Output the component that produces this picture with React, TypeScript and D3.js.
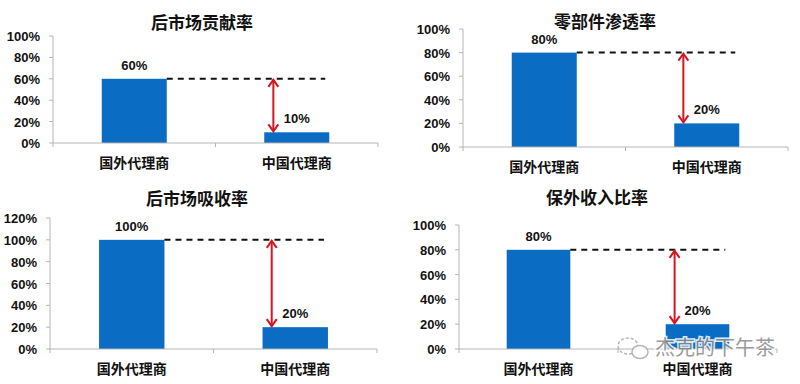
import React from "react";
import * as d3 from "d3";

const categories = ["国外代理商", "中国代理商"];
const titles = ["后市场贡献率", "零部件渗透率", "后市场吸收率", "保外收入比率"];
const foreignValues = [60, 80, 100, 80];
const chinaValues = [10, 20, 20, 20];
const yMaxes = [100, 100, 120, 100];
const tickStep = 20;

// panel layout (pixels): axis left x, axis right x, baseline y, top y (for yMax), title center x / baseline y
const layouts = [
  { x0: 53, x1: 378, y0: 143, y1: 36, tx: 202, ty: 29 },
  { x0: 463, x1: 788, y0: 147, y1: 29, tx: 605, ty: 28 },
  { x0: 50, x1: 377, y0: 349, y1: 218, tx: 197, ty: 205 },
  { x0: 459, x1: 777, y0: 349, y1: 225, tx: 597, ty: 204 },
];

const BLUE = "#0a6cc2";
const RED = "#d7141f";
const AXIS = "#b5b5b5";
const FONT = "'Liberation Sans', Arial, 'Noto Sans CJK SC', sans-serif";

function Panel({ i }: { i: number }) {
  const L = layouts[i];
  const x = d3.scaleBand<string>().domain(categories).range([L.x0, L.x1]).paddingInner(0.6).paddingOuter(0.3);
  const y = d3.scaleLinear().domain([0, yMaxes[i]]).range([L.y0, L.y1]);
  const ticks = d3.range(0, yMaxes[i] + 1, tickStep);
  const vals = [foreignValues[i], chinaValues[i]];
  const bw = x.bandwidth();
  const step = x.step();
  const x2 = x(categories[1])!;
  const ax = x2 + bw * 0.14;
  const yTop = y(vals[0]);
  const yBot = y(vals[1]);
  const h = 6;
  return (
    <g>
      <text x={L.tx} y={L.ty} textAnchor="middle" fontSize={17} fontWeight="bold" fill="#111" fontFamily={FONT}>
        {titles[i]}
      </text>
      <line x1={L.x0} x2={L.x0} y1={y(yMaxes[i])} y2={L.y0} stroke={AXIS} strokeWidth={1} />
      {ticks.map((t) => (
        <g key={t}>
          <line x1={L.x0 - 4} x2={L.x0} y1={y(t)} y2={y(t)} stroke={AXIS} />
          <text x={L.x0 - 13} y={y(t) + 5} textAnchor="end" fontSize={13} fontWeight="bold" fill="#111" fontFamily={FONT}>
            {t}%
          </text>
        </g>
      ))}
      {categories.map((c, k) => (
        <rect key={c} x={x(c)!} y={y(vals[k])} width={bw} height={L.y0 - y(vals[k])} fill={BLUE} />
      ))}
      <line x1={L.x0} x2={L.x1} y1={L.y0} y2={L.y0} stroke={AXIS} />
      {[0, 1, 2].map((k) => (
        <line key={k} x1={L.x0 + k * step} x2={L.x0 + k * step} y1={L.y0} y2={L.y0 + 4} stroke={AXIS} />
      ))}
      {categories.map((c) => (
        <text key={c} x={x(c)! + bw / 2} y={L.y0 + 25} textAnchor="middle" fontSize={14} fontWeight="bold" fill="#111" fontFamily={FONT}>
          {c}
        </text>
      ))}
      {categories.map((c, k) => (
        <text key={c} x={x(c)! + bw / 2} y={y(vals[k]) - 9} textAnchor="middle" fontSize={13} fontWeight="bold" fill="#111" fontFamily={FONT}>
          {vals[k]}%
        </text>
      ))}
      <line x1={x(categories[0])! + bw} x2={x2 + bw - 4} y1={yTop} y2={yTop} stroke="#111" strokeWidth={2} strokeDasharray="6,5" />
      <line x1={ax} x2={ax} y1={yTop + 1} y2={yBot - 1} stroke={RED} strokeWidth={2} />
      <path d={`M${ax - 5},${yTop + h + 2} L${ax},${yTop + 1} L${ax + 5},${yTop + h + 2}`} fill="none" stroke={RED} strokeWidth={2} />
      <path d={`M${ax - 5},${yBot - h - 2} L${ax},${yBot - 1} L${ax + 5},${yBot - h - 2}`} fill="none" stroke={RED} strokeWidth={2} />
    </g>
  );
}

export default function App() {
  return (
    <svg width={800} height={384} style={{ position: "absolute", left: 0, top: 0, background: "#fff" }}>
      <rect width={800} height={384} fill="#fff" />
      {titles.map((_, i) => (
        <Panel key={i} i={i} />
      ))}
      <g opacity={0.85}>
        <ellipse cx={628} cy={346} rx={10} ry={8} fill="none" stroke="#aaa" strokeWidth={1.5} strokeDasharray="3,2" />
        <ellipse cx={640} cy={352} rx={8} ry={6.5} fill="#fff" stroke="#aaa" strokeWidth={1.5} />
        <text x={715} y={355} textAnchor="middle" fontSize={20} fill="#8a8a8a" stroke="#fff" strokeWidth={3} paintOrder="stroke" fontFamily="'Noto Sans CJK SC', sans-serif">
          杰克的下午茶
        </text>
      </g>
    </svg>
  );
}
